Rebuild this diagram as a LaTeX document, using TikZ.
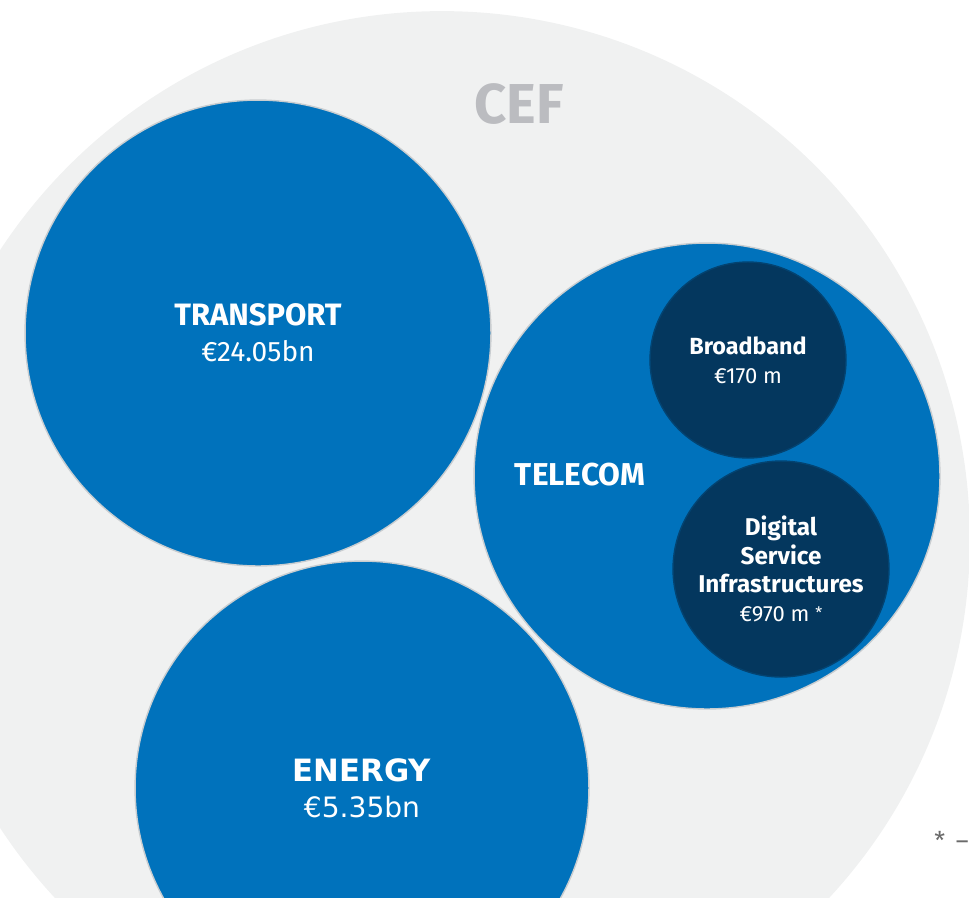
\documentclass[tikz,border=0pt]{standalone}
\usepackage{fontspec}
\setmainfont{Fira Sans}
\newfontfamily\dejavu{DejaVu Sans}
\usetikzlibrary{positioning}
\definecolor{cefGray}{HTML}{F0F1F1}
\definecolor{cefText}{HTML}{BBBCC0}
\definecolor{ecBlue}{HTML}{0072BC}
\definecolor{ecNavy}{HTML}{04375E}
\definecolor{rimGray}{HTML}{C9CDD0}
\definecolor{noteGray}{HTML}{6A6A6A}

\begin{document}
\begin{tikzpicture}[x=0.02cm, y=-0.02cm,
      cefDisc/.style={circle, fill=cefGray, minimum size=21.12cm, inner sep=0pt},
      blueDisc/.style={circle, fill=ecBlue, draw=rimGray, line width=0.8pt, inner sep=0pt, text=white, align=center, font=\fontsize{16}{20.5}\selectfont},
      navyDisc/.style={circle, fill=ecNavy, draw=ecNavy!80!ecBlue, line width=0.8pt, inner sep=0pt, text=white, align=center, font=\fontsize{12.5}{16.3}\selectfont},
      bigHead/.style={font=\bfseries\fontsize{18}{20.5}\selectfont},
      note/.style={text=noteGray, font=\fontsize{14}{16}\selectfont, anchor=west, inner sep=0pt}
    ]
      \useasboundingbox (0,0) rectangle (969,897);
      \clip (0,0) rectangle (969,897);
      % outer programme
      \node[cefDisc] (cef) at (442,539) {};
      \node[text=cefText, font=\bfseries\fontsize{32}{34}\selectfont] (cefLabel) at (519,104) {CEF};
      % three sectors
      \node[blueDisc, minimum size=9.32cm] (transport) at (258,333)
        {{\bfseries\fontsize{17.6}{20.5}\selectfont TRANSPORT}\\€24.05bn};
      \node[blueDisc, minimum size=9.32cm] (telecom) at (707,476) {};
      \node[blueDisc, minimum size=9.08cm, font=\dejavu\fontsize{16}{20.5}\selectfont] (energy) at (362,788)
        {{\bfseries\fontsize{17.5}{20.5}\selectfont ENERGY}\\€5.35bn};
      \node[text=white, bigHead] (telecomLabel) at (580,475) {TELECOM};
      % telecom parts
      \node[navyDisc, minimum size=3.92cm] (broadband) at (748,360)
        {{\bfseries\fontsize{13.3}{16.3}\selectfont Broadband}\\€170 m};
      \node[navyDisc, minimum size=4.32cm] (dsi) at (781,569)
        {{\bfseries\fontsize{13.8}{16.5}\selectfont Digital}\\{\bfseries\fontsize{13.8}{16.5}\selectfont Service}\\{\bfseries\fontsize{13.8}{16.5}\selectfont Infrastructures}\\€970 m \raisebox{2pt}{\fontsize{9}{9}\selectfont *}};
      \node[note] (footnote) at (934,840) {*\, –};
    \end{tikzpicture}
\end{document}
